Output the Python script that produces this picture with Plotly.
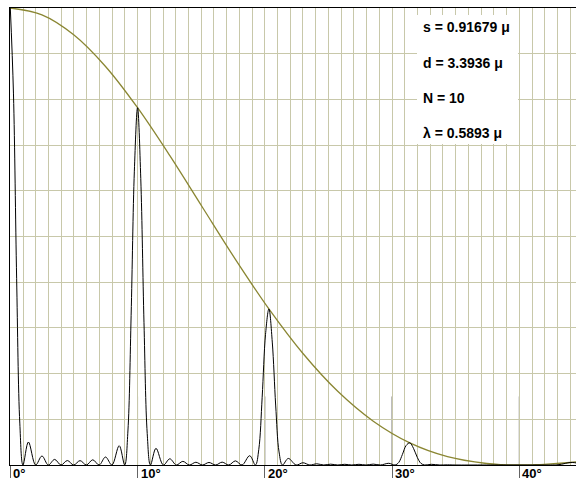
import plotly.graph_objects as go

# Diffraction-grating intensity
angle_deg = [
    0, 0.249, 0.497, 0.746, 0.995, 1.423, 1.990, 2.488, 2.986, 3.484, 3.983, 4.482, 4.981,
    5.481, 5.981, 6.481, 6.982, 7.483, 7.985, 8.558, 8.991, 9.243, 9.495, 9.748, 10.000,
    10.253, 10.506, 10.759, 11.012, 11.448, 12.027, 12.537, 13.047, 13.558, 14.070, 14.584,
    15.098, 15.614, 16.131, 16.650, 17.170, 17.691, 18.214, 18.812, 19.265, 19.528, 19.793,
    20.057, 20.322,
    20.588, 20.854, 21.120, 21.387, 21.847, 22.459, 22.999, 23.540, 24.084, 24.630, 25.179,
    25.730, 26.283, 26.839, 27.398, 27.960, 28.525, 29.092, 29.743, 30.238, 30.526, 30.815,
    31.105, 31.396,
    31.688, 31.981, 32.274, 32.569, 33.078, 33.758, 34.358, 34.963, 37.429, 42.628, 42.967,
    43.308, 43.651, 43.995, 44.342, 44.691, 45.042, 45.395,
]
intensity = [
    1.0, 0.812, 0.4086, 0.0917, 0, 0.0503, 0, 0.0197, 0, 0.01223, 0, 0.00976, 0,
    0.00953, 0, 0.01137, 0, 0.01744, 0, 0.0422, 0, 0.0744, 0.3275, 0.6429, 0.7818,
    0.6269, 0.3113, 0.0690, 0, 0.0365, 0, 0.01354, 0, 0.00797, 0, 0.00601,
    0, 0.00555, 0, 0.00624, 0, 0.0090, 0, 0.02033, 0, 0.03426, 0.1482,
    0.2859, 0.3415,
    0.2690, 0.1312, 0.02854, 0, 0.01435, 0, 0.00488, 0, 0.00263, 0, 0.00181,
    0, 0.0015, 0, 0.00151, 0, 0.00192, 0, 0.00371, 0, 0.00559, 0.02313,
    0.04264, 0.0485,
    0.03635, 0.01682, 0.00347, 0, 0.00148, 0, 0.00037, 0, 0, 0, 0.00029,
    0.00159, 0.00377, 0.00545, 0.00511, 0.00294, 0.00074, 0,
]

# Single-slit envelope
env_angle_deg = [0, 2.488, 4.981, 7.483, 10.0, 12.537, 15.098, 17.691, 20.322, 22.999,
                 25.730, 28.525, 31.396, 34.358, 37.429, 38.692, 40.0, 41.290, 41.955,
                 43.995, 45.395]
env_value = [1, 0.985, 0.9414, 0.8721, 0.7818, 0.6768, 0.5640, 0.4500, 0.3415, 0.2439,
             0.1613, 0.0959, 0.0485, 0.01836, 0.00329, 0.000796, 0, 0.000667, 0.00148,
             0.00545, 0.00908]

tick_vals = [0, 10, 20, 30, 40]
tick_text = ["0°", "10°", "20°", "30°", "40°"]
info_lines = ["s = 0.91679 μ", "d = 3.3936 μ", "N = 10", "λ = 0.5893 μ"]

GRID = "rgb(200,200,170)"
OLIVE = "rgb(138,134,50)"

fig = go.Figure()
fig.add_trace(go.Scatter(x=env_angle_deg, y=env_value, mode="lines",
                         line=dict(color=OLIVE, width=1.3, shape="spline", smoothing=1),
                         hoverinfo="skip", showlegend=False))
fig.add_trace(go.Scatter(x=angle_deg, y=intensity, mode="lines",
                         line=dict(color="black", width=1.0, shape="spline", smoothing=1),
                         hoverinfo="skip", showlegend=False))

fig.update_layout(
    width=576, height=480, autosize=False,
    margin=dict(l=10, r=0, t=8, b=15, pad=0),
    paper_bgcolor="white", plot_bgcolor="white",
    font=dict(family="Arial, Liberation Sans, sans-serif", color="black"),
    xaxis=dict(range=[-0.024, 44.456], tickvals=tick_vals, showticklabels=False,
               ticks="outside", ticklen=12, tickcolor="rgb(100,100,100)", tickwidth=1,
               showgrid=True, gridcolor=GRID, gridwidth=1.3,
               minor=dict(dtick=1, tick0=0, showgrid=True, gridcolor=GRID, gridwidth=1.3,
                          ticks=""),
               showline=True, linecolor="black", linewidth=1, mirror=True,
               zeroline=False, fixedrange=True, automargin=False),
    yaxis=dict(range=[0, 1], dtick=0.1, showticklabels=False, ticks="",
               showgrid=True, gridcolor=GRID, gridwidth=1.3,
               showline=True, linecolor="black", linewidth=1, mirror=False,
               zeroline=False, fixedrange=True, automargin=False),
)

# darker tick lines rising from the baseline at every 10 degrees
for tv in tick_vals[1:]:
    fig.add_shape(type="line", xref="x", yref="paper", x0=tv, x1=tv, y0=0, y1=0.15,
                  line=dict(color="rgb(110,110,110)", width=1), layer="between")

# tick labels placed to the right of each tick
for tv, tt in zip(tick_vals, tick_text):
    fig.add_annotation(x=tv, y=0, xref="x", yref="paper", text="<b>" + tt + "</b>",
                       showarrow=False, xanchor="left", yanchor="top", xshift=1, yshift=1,
                       font=dict(size=13, color="black"))

# white information box
fig.add_shape(type="rect", xref="paper", yref="paper", x0=0.7191, x1=0.8975,
              y0=0.7024, y1=0.9847, fillcolor="white", line=dict(width=0), layer="above")
info_y = [0.959, 0.880, 0.8024, 0.7265]
for txt, yy in zip(info_lines, info_y):
    fig.add_annotation(x=0.733, y=yy, xref="paper", yref="paper", text="<b>" + txt + "</b>",
                       showarrow=False, xanchor="left", yanchor="middle", xshift=-4,
                       font=dict(size=14, color="black"))

fig.write_html("out.html", config={"displayModeBar": False},
               post_script="document.body.style.margin='0';document.body.style.padding='0';")
